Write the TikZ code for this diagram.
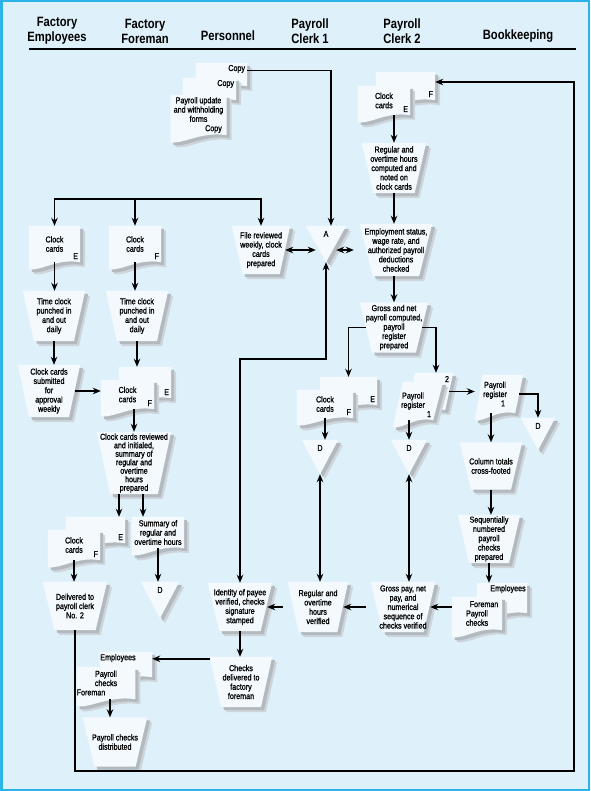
\documentclass[tikz,border=0pt]{standalone}
\usepackage{fontspec}
\setmainfont{Liberation Sans}[FakeStretch=0.83]
\newfontfamily\bodyf{Liberation Sans}[FakeStretch=0.83,FakeBold=1]
\usetikzlibrary{arrows.meta,calc}
\pgfdeclarelayer{back}
\pgfdeclarelayer{bg}
\pgfsetlayers{back,bg,main}
\definecolor{bgc}{HTML}{DEF1FB}
\definecolor{bordc}{HTML}{2AB3E6}
\definecolor{shapec}{HTML}{F3F9FD}
\definecolor{shA}{HTML}{CDD4DA}
\definecolor{shB}{HTML}{B2BAC0}
\newcommand\shdoc[2]{%
 \foreach \shd/\shcol in {5/shA,3/shB,0/shapec}{%
  \fill[fill=\shcol] ($(#1.north west)+(#2+\shd,\shd)$) -- ($(#1.north east)+(#2+\shd,\shd)$) -- ($(#1.south east)+(\shd,\shd)$)
   .. controls ($(#1.south east)!0.45!(#1.south west)+(\shd,\shd-4)$) and ($(#1.south east)!0.75!(#1.south west)+(\shd,\shd+9)$) .. ($(#1.south west)+(\shd,\shd+7)$) -- cycle;}}
\newcommand\shop[1]{%
 \foreach \shd/\shcol in {5/shA,3/shB,0/shapec}{%
  \fill[fill=\shcol] ($(#1.north west)+(\shd,\shd)$) -- ($(#1.north east)+(\shd,\shd)$) -- ($(#1.south east)!0.18!(#1.south west)+(\shd,\shd)$) -- ($(#1.south west)!0.18!(#1.south east)+(\shd,\shd)$) -- cycle;}}
\newcommand\shtri[1]{%
 \foreach \shd/\shcol in {5/shA,3/shB,0/shapec}{%
  \fill[fill=\shcol] ($(#1.north west)+(\shd,\shd)$) -- ($(#1.north east)+(\shd,\shd)$) -- ($(#1.south west)!0.5!(#1.south east)+(\shd,\shd)$) -- cycle;}}
\begin{document}
\begin{tikzpicture}[x=1pt,y=-1pt,
  nd/.style={inner sep=0pt, align=center, font=\bodyf\fontsize{8.6}{9.3}\selectfont},
  lb/.style={inner sep=0pt, font=\bodyf\fontsize{8.6}{9.3}\selectfont},
  hd/.style={align=center, inner sep=0pt, font=\fontsize{13.5}{15}\selectfont\bfseries},
  arr/.style={line width=1.8pt, -{Stealth[length=8pt,width=6.5pt]}},
  darr/.style={line width=1.8pt, {Stealth[length=8pt,width=6.5pt]}-{Stealth[length=8pt,width=6.5pt]}},
  cSE/.style={label={[lb,anchor=south east,xshift=-2pt,yshift=3pt]south east:#1}},
  cNE/.style={label={[lb,anchor=north east,xshift=-2pt,yshift=-2pt]north east:#1}},
  cT/.style={label={[lb,anchor=north,yshift=-5pt]north:#1}}]
\useasboundingbox (0,0) rectangle (590,791);
\begin{pgfonlayer}{back}
\fill[bgc] (0,0) rectangle (590,791);
\draw[bordc, line width=2.5pt] (1.25,1.25) rectangle (588.75,789.75);
\end{pgfonlayer}
% headers
\node[hd] (hFE) at (57,31) {Factory\\Employees};
\node[hd] (hFF) at (145,31) {Factory\\Foreman};
\node[hd] (hP) at (228,36) {Personnel};
\node[hd] (hC1) at (310,31) {Payroll\\Clerk 1};
\node[hd] (hC2) at (402,31) {Payroll\\Clerk 2};
\node[hd] (hB) at (518,36) {Bookkeeping};
\draw[line width=1.8pt] (29,49) -- (576,49);
% personnel
\node[nd,minimum width=51,minimum height=23,cNE=Copy] (pc3) at (221.5,74.5) {};
\node[nd,minimum width=53,minimum height=22,cNE=Copy] (pc2) at (209.5,89) {};
\node[nd,minimum width=56,minimum height=40] (pc1) at (198.5,115) {Payroll update\\and withholding\\forms\\\hspace*{30pt}Copy};
% payroll clerk 2 top
\node[nd,minimum width=59,minimum height=28,cSE=F] (c2b) at (405.5,86) {};
\node[nd,minimum width=52,minimum height=29,cSE=E] (c2f) at (384,100.5) {Clock\\cards};
\node[nd,minimum width=64,minimum height=50] (reg2) at (394,168) {Regular and\\overtime hours\\computed and\\noted on\\clock cards};
\node[nd,minimum width=72,minimum height=52] (emp) at (396,250) {Employment status,\\wage rate, and\\authorized payroll\\deductions\\checked};
\node[nd,minimum width=40,minimum height=36,cT=A] (A) at (326,244) {};
\node[nd,minimum width=58,minimum height=48] (fr) at (261,250) {File reviewed\\weekly, clock\\cards\\prepared};
\node[nd,minimum width=68,minimum height=50] (gross) at (394,327.5) {Gross and net\\payroll computed,\\payroll\\register\\prepared};
% factory
\node[nd,minimum width=51,minimum height=36,cSE=E] (ceE) at (54.5,244) {Clock\\cards};
\node[nd,minimum width=52,minimum height=36,cSE=F] (cfF) at (135,244) {Clock\\cards};
\node[nd,minimum width=62,minimum height=50] (tc1) at (54,316) {Time clock\\punched in\\and out\\daily};
\node[nd,minimum width=62,minimum height=50] (tc2) at (137,316) {Time clock\\punched in\\and out\\daily};
\node[nd,minimum width=62,minimum height=52] (sub) at (49,391) {Clock cards\\submitted\\for\\approval\\weekly};
\node[nd,minimum width=52,minimum height=31,cSE=E] (fsb) at (145,382.5) {};
\node[nd,minimum width=53,minimum height=29,cSE=F] (fsf) at (127.5,394.5) {Clock\\cards};
\node[nd,minimum width=74,minimum height=62,font=\bodyf\fontsize{8.6}{8.5}\selectfont] (rev) at (134,463) {Clock cards reviewed\\and initialed,\\summary of\\regular and\\overtime\\hours\\prepared};
\node[nd,minimum width=59,minimum height=26,cSE=E] (lsb) at (95.5,530) {};
\node[nd,minimum width=52,minimum height=30,cSE=F] (lsf) at (74,545) {Clock\\cards};
\node[nd,minimum width=52,minimum height=31] (sum) at (158,532.5) {Summary of\\regular and\\overtime hours};
\node[nd,minimum width=64,minimum height=48] (del) at (75,606) {Delivered to\\payroll clerk\\No. 2};
\node[nd,minimum width=38,minimum height=36,cT=D] (D1) at (160,600) {};
% payroll clerk 1
\node[nd,minimum width=57,minimum height=28,cSE=E] (k1b) at (348.5,391) {};
\node[nd,minimum width=56,minimum height=28,cSE=F] (k1f) at (325,404) {Clock\\cards};
\node[nd,minimum width=36,minimum height=34,cT=D] (D2) at (320,457) {};
\node[nd,minimum width=60,minimum height=50] (rov) at (318,607) {Regular and\\overtime\\hours\\verified};
\node[nd,minimum width=64,minimum height=48] (idp) at (240,607) {Identity of payee\\verified, checks\\signature\\stamped};
\node[nd,minimum width=62,minimum height=50] (cdf) at (241,682) {Checks\\delivered to\\factory\\foreman};
% payroll clerk 2 lower
\node[nd,minimum width=38,minimum height=37,label={[lb,anchor=north east,xshift=4pt,yshift=-3pt]north east:2}] (p2b) at (426,391.5) {};
\node[nd,minimum width=40,minimum height=38,cSE=1] (p2f) at (413,401) {Payroll\\register};
\node[nd,minimum width=36,minimum height=34,cT=D] (D3) at (409,457) {};
\node[nd,minimum width=64,minimum height=50] (gp) at (403,607) {Gross pay, net\\pay, and\\numerical\\sequence of\\checks verified};
% bookkeeping
\node[nd,minimum width=40,minimum height=38] (p1) at (495,394) {Payroll\\register\\\hspace*{16pt}1};
\node[nd,minimum width=34,minimum height=32,cT=D] (D4) at (538,434) {};
\node[nd,minimum width=62,minimum height=47] (col) at (491,466) {Column totals\\cross-footed};
\node[nd,minimum width=62,minimum height=48] (seq) at (489,539) {Sequentially\\numbered\\payroll\\checks\\prepared};
\node[nd,minimum width=50,minimum height=30,label={[lb,anchor=north,xshift=6pt,yshift=-2pt]north:Employees}] (chb) at (502,598) {};
\node[nd,minimum width=50,minimum height=33] (chf) at (477,613.5) {\hspace*{14pt}Foreman\\Payroll\\checks};
% employees checks
\node[nd,minimum width=52,minimum height=25,label={[lb,anchor=north,xshift=-8pt,yshift=-2pt]north:Employees}] (eb) at (126,664.5) {};
\node[nd,minimum width=52,minimum height=32] (ef) at (106,683) {Payroll\\checks\\Foreman\hspace*{30pt}};
\node[nd,minimum width=64,minimum height=49] (pcd) at (115,742) {Payroll checks\\distributed};
% shapes
\begin{pgfonlayer}{bg}
\shdoc{pc3}{0}\shdoc{pc2}{0}\shdoc{pc1}{0}
\shdoc{c2b}{0}\shdoc{c2f}{0}
\shop{reg2}\shop{emp}\shtri{A}\shop{fr}\shop{gross}
\shdoc{ceE}{0}\shdoc{cfF}{0}\shop{tc1}\shop{tc2}\shop{sub}
\shdoc{fsb}{0}\shdoc{fsf}{0}\shop{rev}\shdoc{lsb}{0}\shdoc{lsf}{0}\shdoc{sum}{0}\shop{del}\shtri{D1}
\shdoc{k1b}{0}\shdoc{k1f}{0}\shtri{D2}\shop{rov}\shop{idp}\shop{cdf}
\shdoc{p2b}{8}\shdoc{p2f}{10}\shtri{D3}\shop{gp}
\shdoc{p1}{8}\shtri{D4}\shop{col}\shop{seq}\shdoc{chb}{0}\shdoc{chf}{0}
\shdoc{eb}{0}\shdoc{ef}{0}\shop{pcd}
\end{pgfonlayer}
% connectors
\coordinate (j2) at (135,199);
\draw[arr] (j2) -| (ceE.north);
\draw[arr] (j2) -- (cfF.north);
\draw[arr] (j2) -| (fr.north);
\draw[arr] ([yshift=4pt]pc3.east) -| ([xshift=5pt]A.north);
\draw[arr] (reg2.north |- c2f.south) -- (reg2.north);
\draw[arr] (reg2.south) -- (reg2.south |- emp.north);
\draw[arr] (reg2.south |- emp.south) -- (reg2.south |- gross.north);
\draw[darr, shorten <=-5pt, shorten >=-10pt] (fr.east) -- (fr.east -| A.west);
\draw[darr, shorten <=6pt, shorten >=-10pt] (emp.west) -- (emp.west -| A.east);
\coordinate (j1) at (326,359);
\draw[darr] (A.south) -- (j1) -| (idp.north);
\draw[arr] (ceE.south) -- (ceE.south |- tc1.north);
\draw[arr] (cfF.south) -- (cfF.south |- tc2.north);
\draw[arr] (tc1.south) -- (tc1.south |- sub.north);
\draw[arr] (tc2.south) -- (tc2.south |- fsb.north);
\draw[arr, shorten <=-5pt] (sub.east) -- (sub.east -| fsf.west);
\draw[arr] (rev.north |- fsf.south) -- (rev.north);
\draw[arr] ([xshift=-15pt]rev.south) -- ([xshift=-15pt]rev.south |- lsb.north);
\draw[arr] ([xshift=9pt]rev.south) -- ([xshift=9pt]rev.south |- sum.north);
\draw[arr] (lsf.south) -- (lsf.south |- del.north);
\draw[arr] (sum.south) -- (sum.south |- D1.north);
\coordinate (lp1) at (75,771);
\coordinate (lp2) at (574,771);
\draw[arr] (del.south) -- (lp1) -- (lp2) |- ([yshift=4pt]c2b.east);
\draw[arr] ([xshift=6pt]gross.west) -| (k1b.north);
\draw[arr] ([xshift=-6pt]gross.east) -| ([xshift=10pt]p2b.north);
\draw[arr] (k1f.south) -- (k1f.south |- D2.north);
\draw[arr] (D3.north |- p2f.south) -- (D3.north);
\draw[arr, shorten >=4pt] ([xshift=4pt]p2b.east) -- ([xshift=4pt]p2b.east -| p1.west);
\draw[arr] ([xshift=4pt]p1.east) -| (D4.north);
\draw[arr] (col.north |- p1.south) -- (col.north);
\draw[darr] (D2.south) -- (D2.south |- rov.north);
\draw[darr] (D3.south) -- (D3.south |- gp.north);
\draw[arr] (col.south) -- (col.south |- seq.north);
\draw[arr] (seq.south) -- (seq.south |- chb.north);
\draw[arr, shorten >=-5pt] (chf.west |- gp.east) -- (gp.east);
\draw[arr, shorten <=5pt, shorten >=-5pt] (gp.west) -- (rov.east);
\draw[arr, shorten <=5pt, shorten >=-5pt] (rov.west) -- (idp.east);
\draw[arr] (idp.south) -- (idp.south |- cdf.north);
\draw[arr] ([yshift=-2pt]cdf.north west) -- ([yshift=-2pt]cdf.north west -| eb.east);
\draw[arr] ([xshift=4pt]ef.south) -- ([xshift=4pt]ef.south |- pcd.north);
\end{tikzpicture}
\end{document}
